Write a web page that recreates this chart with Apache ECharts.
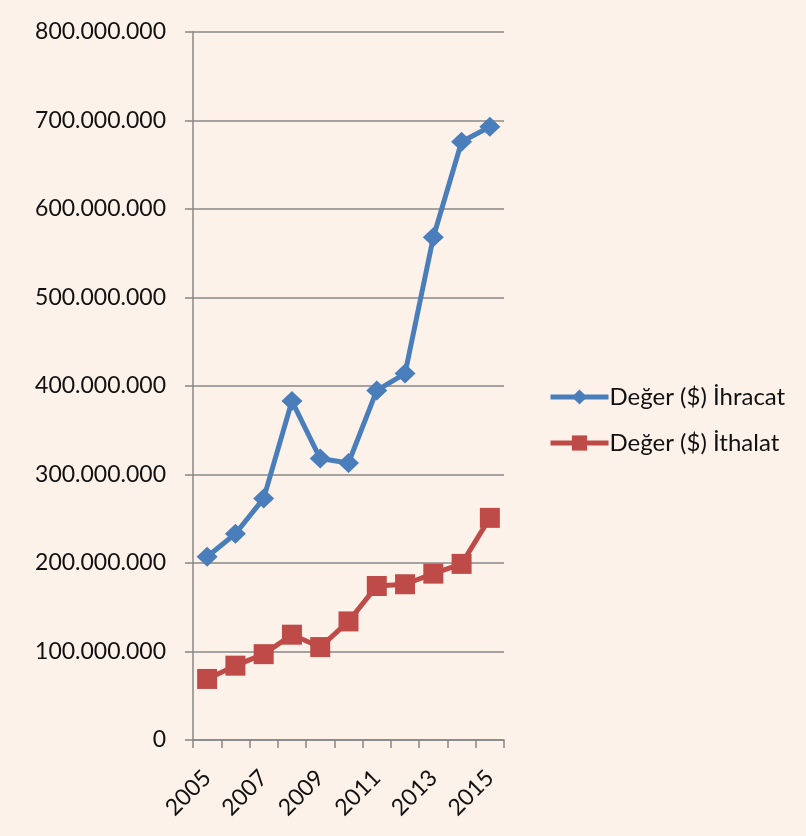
<!DOCTYPE html>
<html>
<head>
<meta charset="utf-8">
<script src="https://cdn.jsdelivr.net/npm/echarts@6/dist/echarts.min.js"></script>
<style>
  html, body { margin: 0; padding: 0; background: #ffffff; }
  #chart { width: 806px; height: 836px; }
</style>
</head>
<body>
<div id="chart"></div>
<script>
// Years on the category axis
const years = ['2005', '2006', '2007', '2008', '2009', '2010', '2011', '2012', '2013', '2014', '2015'];
// Export value in US dollars
const ihracat = [207000000, 233000000, 273000000, 383000000, 318000000, 313000000, 395000000, 414000000, 568000000, 676000000, 693000000];
// Import value in US dollars
const ithalat = [69000000, 84000000, 97000000, 119000000, 105000000, 134000000, 174000000, 176000000, 188000000, 199000000, 251000000];
// Value-axis ticks
const yTicks = [0, 100000000, 200000000, 300000000, 400000000, 500000000, 600000000, 700000000, 800000000];

const seriesNames = ['Değer ($) İhracat', 'Değer ($) İthalat'];

function dotted(v) {
  return String(v).replace(/\B(?=(\d{3})+(?!\d))/g, '.');
}

const FONT = 'Lato, "Open Sans", sans-serif';
const AXIS_GRAY = '#878787';

const chart = echarts.init(document.getElementById('chart'), null, { renderer: 'canvas' });

chart.setOption({
  backgroundColor: '#FDF2EA',
  animation: false,
  grid: { left: 193, right: 302, top: 32, bottom: 96, containLabel: false },
  legend: {
    orient: 'vertical',
    left: 543,
    top: 380,
    itemWidth: 58,
    itemHeight: 19,
    itemGap: 22,
    lineStyle: { width: 5 },
    textStyle: { fontFamily: FONT, fontSize: 24, color: '#111', padding: [0, 0, 0, -4] },
    data: seriesNames
  },
  xAxis: {
    type: 'category',
    data: years,
    boundaryGap: true,
    axisLine: { lineStyle: { color: AXIS_GRAY, width: 1.5 } },
    axisTick: { show: true, interval: 0, length: 8, lineStyle: { color: AXIS_GRAY, width: 1.5 } },
    axisLabel: {
      interval: 1,
      rotate: 45,
      margin: 34,
      fontFamily: FONT,
      fontSize: 23,
      color: '#111'
    },
    splitLine: { show: false }
  },
  yAxis: {
    type: 'value',
    min: yTicks[0],
    max: yTicks[yTicks.length - 1],
    interval: yTicks[1] - yTicks[0],
    axisLine: { show: true, lineStyle: { color: AXIS_GRAY, width: 1.5 } },
    axisTick: { show: true, length: 8, lineStyle: { color: AXIS_GRAY, width: 1.5 } },
    axisLabel: {
      margin: 27,
      fontFamily: FONT,
      fontSize: 23,
      color: '#111',
      formatter: dotted
    },
    splitLine: { show: true, lineStyle: { color: AXIS_GRAY, width: 1.5 } }
  },
  series: [
    {
      name: seriesNames[0],
      type: 'line',
      data: ihracat,
      symbol: 'diamond',
      symbolSize: [21, 20],
      showAllSymbol: true,
      color: '#4A7EBB',
      lineStyle: { width: 5, color: '#4A7EBB' },
      itemStyle: { color: '#4A7EBB' }
    },
    {
      name: seriesNames[1],
      type: 'line',
      data: ithalat,
      symbol: 'rect',
      symbolSize: 20,
      showAllSymbol: true,
      color: '#BE4B48',
      lineStyle: { width: 5, color: '#BE4B48' },
      itemStyle: { color: '#BE4B48' }
    }
  ]
});
</script>
</body>
</html>
